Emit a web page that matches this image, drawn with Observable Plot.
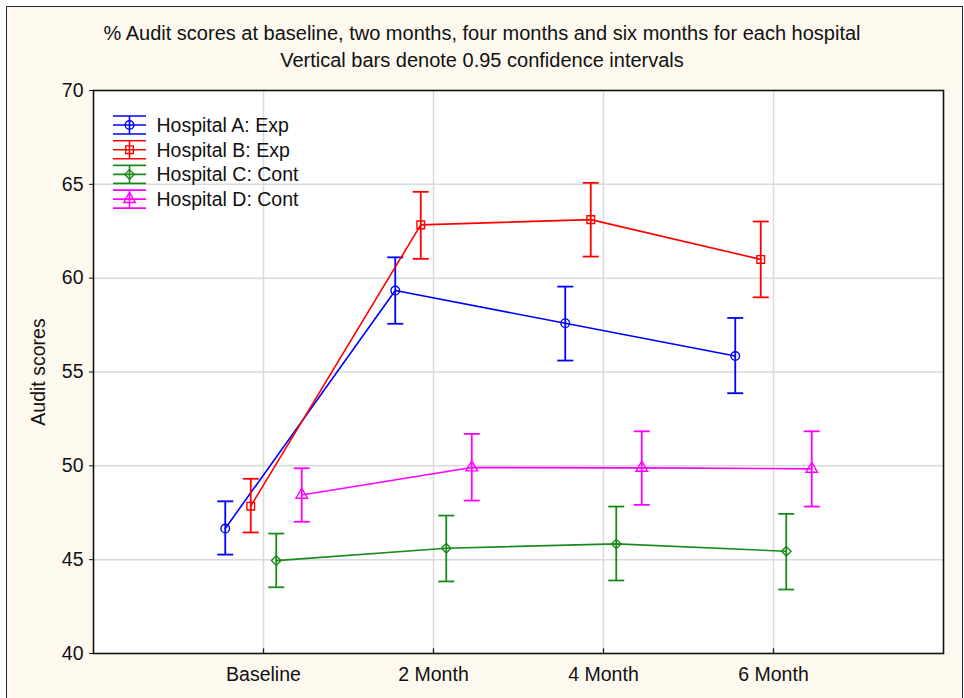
<!DOCTYPE html>
<html>
<head>
<meta charset="utf-8">
<script src="https://cdn.jsdelivr.net/npm/d3@7"></script>
<script src="https://cdn.jsdelivr.net/npm/@observablehq/plot@0.6"></script>
<style>
  html, body { margin: 0; padding: 0; background: #ffffff; }
  #wrap { position: relative; width: 964px; height: 698px; overflow: hidden; font-family: "Liberation Sans", Arial, sans-serif; }
  #panel { position: absolute; left: 6px; top: 6px; width: 955px; height: 720px; border: 1.5px solid #2a2a2a; background: #fdf9ef; }
  #title { position: absolute; left: 0; top: 20px; width: 964px; text-align: center; font-size: 20px; line-height: 27px; color: #111; }
  #chart { position: absolute; left: 0; top: 70px; }
  #legend { position: absolute; left: 0; top: 0; }
</style>
</head>
<body>
<div id="wrap">
  <div id="panel"></div>
  <div id="title"></div>
  <div id="chart"></div>
  <svg id="legend" width="400" height="240"></svg>
</div>
<script>
const titleLines = [
  "% Audit scores at baseline, two months, four months and six months for each hospital",
  "Vertical bars denote 0.95 confidence intervals"
];
const yLabel = "Audit scores";
const categories = ["Baseline", "2 Month", "4 Month", "6 Month"];
const hospitals = ["Hospital A: Exp", "Hospital B: Exp", "Hospital C: Cont", "Hospital D: Cont"];
const yTicks = [40, 45, 50, 55, 60, 65, 70];

const meanA = [46.66, 59.34, 57.60, 55.85];
const lowA  = [45.27, 57.57, 55.61, 53.87];
const highA = [48.11, 61.11, 59.55, 57.88];

const meanB = [47.85, 62.84, 63.12, 61.00];
const lowB  = [46.45, 61.03, 61.15, 58.98];
const highB = [49.31, 64.60, 65.08, 63.02];

const meanC = [44.95, 45.61, 45.84, 45.45];
const lowC  = [43.53, 43.84, 43.89, 43.41];
const highC = [46.39, 47.35, 47.83, 47.44];

const meanD = [48.45, 49.91, 49.89, 49.84];
const lowD  = [47.02, 48.15, 47.92, 47.83];
const highD = [49.87, 51.70, 51.84, 51.84];

// styles (kept separate from data)
const colors  = ["#0000ff", "#ff0000", "#1a8a1a", "#ff00ff"];
const symbols = ["circle", "square", "diamond2", "triangle"];
const d3Symbols = [d3.symbolCircle, d3.symbolSquare, d3.symbolDiamond2, d3.symbolTriangle];
const offsets = [-38.25, -12.75, 12.75, 38.25];
const FONT = 19.5;
const capSymbol = {draw(context) { context.moveTo(-8, 0); context.lineTo(8, 0); }};

document.getElementById("title").innerHTML = titleLines.map(t => `<div>${t}</div>`).join("");

const series = [
  [meanA, lowA, highA], [meanB, lowB, highB], [meanC, lowC, highC], [meanD, lowD, highD]
].map(([m, lo, hi], s) => categories.map((c, i) => ({
  hospital: hospitals[s], time: c, mean: m[i], low: lo[i], high: hi[i]
})));

const marks = [
  Plot.frame({fill: "white"}),
  Plot.ruleY(yTicks.slice(1, -1), {stroke: "#dadada", strokeWidth: 1.5}),
  Plot.ruleX(categories, {stroke: "#dadada", strokeWidth: 1.5}),
  Plot.ruleX(categories, {x: d => d, y1: yTicks[0], y2: yTicks[0] + 0.25, stroke: "#222", strokeWidth: 1.3})
];

series.forEach((data, s) => {
  const c = colors[s], dx = offsets[s];
  marks.push(
    Plot.line(data, {x: "time", y: "mean", stroke: c, strokeWidth: 1.6, dx}),
    Plot.ruleX(data, {x: "time", y1: "low", y2: "high", stroke: c, strokeWidth: 1.8, dx}),
    Plot.dot(data, {x: "time", y: "low", symbol: capSymbol, stroke: c, fill: "none", strokeWidth: 1.8, dx}),
    Plot.dot(data, {x: "time", y: "high", symbol: capSymbol, stroke: c, fill: "none", strokeWidth: 1.8, dx}),
    Plot.dot(data, {x: "time", y: "mean", symbol: symbols[s], r: 4.3, stroke: c, fill: "none", strokeWidth: 1.4, dx})
  );
});

marks.push(
  Plot.frame({stroke: "#111", strokeWidth: 1.6}),
  Plot.axisY({ticks: yTicks, tickSize: 4, tickPadding: 6, label: null, fontSize: FONT}),
  Plot.axisX({tickSize: 0, tickPadding: 14, label: null, fontSize: FONT}),
  Plot.text([yLabel], {text: d => d, frameAnchor: "left", textAnchor: "middle", dx: -55, rotate: -90, fontSize: FONT, fill: "#111"})
);

const chart = Plot.plot({
  width: 964,
  height: 628,
  marginTop: 20,
  marginBottom: 45,
  marginLeft: 93,
  marginRight: 21,
  style: {background: "transparent", fontFamily: "'Liberation Sans', Arial, sans-serif", fontSize: FONT + "px", color: "#111", overflow: "visible"},
  x: {type: "point", domain: categories, padding: 1},
  y: {domain: [yTicks[0], yTicks[yTicks.length - 1]]},
  marks
});
document.getElementById("chart").appendChild(chart);

// legend
const lg = d3.select("#legend");
hospitals.forEach((h, s) => {
  const cy = 125 + s * 24.7;
  const g = lg.append("g").attr("stroke", colors[s]).attr("stroke-width", 1.6).attr("fill", "none");
  [-9, 0, 9].forEach(o => g.append("line").attr("x1", 113).attr("x2", 146).attr("y1", cy + o).attr("y2", cy + o));
  g.append("line").attr("x1", 129.5).attr("x2", 129.5).attr("y1", cy - 9).attr("y2", cy + 9);
  g.append("path").attr("transform", `translate(129.5,${cy})`)
    .attr("d", d3.symbol().type(d3Symbols[s]).size(Math.PI * 4.3 * 4.3)()).attr("stroke-width", 1.4);
  lg.append("text").attr("x", 156.5).attr("y", cy).attr("dy", "0.36em")
    .attr("font-family", "'Liberation Sans', Arial, sans-serif").attr("font-size", FONT).attr("fill", "#111").text(h);
});
</script>
</body>
</html>
